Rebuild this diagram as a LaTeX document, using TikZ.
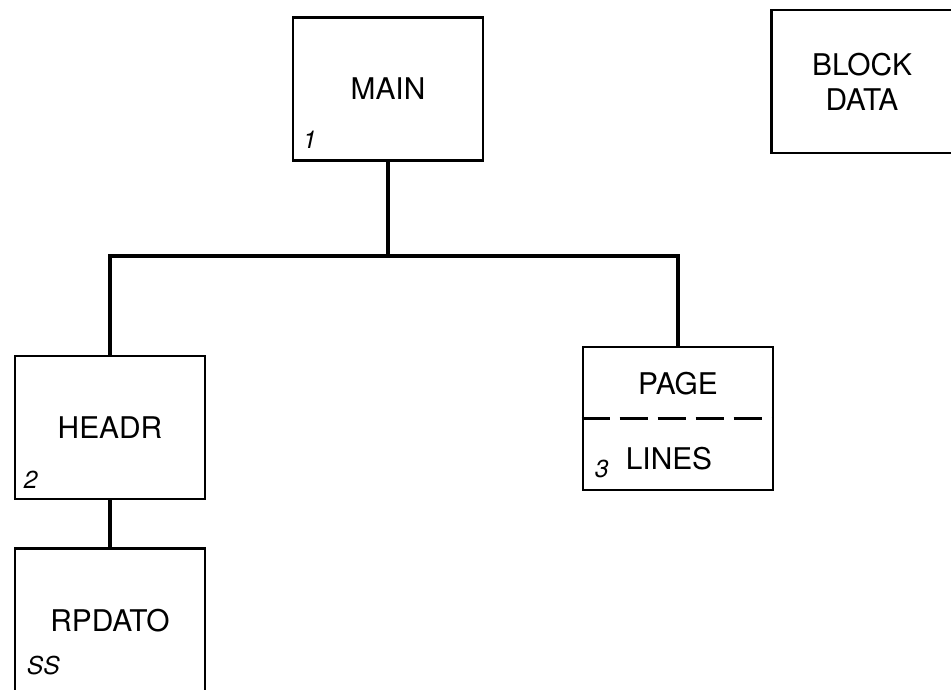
\documentclass[tikz,border=0pt]{standalone}
\usepackage{fontspec}
\setmainfont{TeX Gyre Heros}
\usetikzlibrary{positioning}

\begin{document}
\begin{tikzpicture}[
    node distance=0.94cm,
    box/.style={rectangle, draw=black, line width=1.6pt, minimum width=3.8cm,
                minimum height=2.86cm, align=center, font=\fontsize{17}{20}\selectfont},
    title/.style={inner sep=0pt, align=center, font=\fontsize{17}{20}\selectfont},
    tag/.style={anchor=south west, inner sep=0pt, font=\fontsize{14}{16}\selectfont\itshape},
    link/.style={line width=2.4pt},
    divider/.style={line width=1.4pt, dash pattern=on 0.56cm off 0.2cm}
]
\useasboundingbox (0,0) rectangle (19.02,-13.8);

% program units
\node[box] (main) at (7.76,-1.78) {MAIN};
\node[box, minimum width=4.6cm, anchor=west] (blockdata) at (15.4,-1.63) {};
\node[title] (blocktext) at (17.24,-1.63) {BLOCK\\DATA};
\node[box] (headr) at (2.2,-8.55) {HEADR};
\node[box, below=of headr] (rpdato) {RPDATO};
\node[box] (page) at (13.56,-8.37) {};

% PAGE with its LINES entry
\draw[divider] (page.west) -- (page.east);
\node[title] (pagetext) at ([yshift=0.7cm]page.center) {PAGE};
\node[title] (linestext) at ([xshift=-0.18cm, yshift=-0.8cm]page.center) {LINES};

% unit numbers
\node[tag] (tmain) at ([shift={(0.22cm,0.26cm)}]main.south west) {1};
\node[tag] (theadr) at ([shift={(0.2cm,0.24cm)}]headr.south west) {2};
\node[tag] (tpage) at ([shift={(0.26cm,0.26cm)}]page.south west) {3};
\node[tag] (trpdato) at ([shift={(0.26cm,0.36cm)}]rpdato.south west) {SS};

% call tree
\coordinate (bus) at (7.76,-5.12);
\draw[link] (main) -- (bus);
\draw[link] (headr.north) |- (bus) -| (page.north);
\draw[link] (headr) -- (rpdato);

\end{tikzpicture}
\end{document}
